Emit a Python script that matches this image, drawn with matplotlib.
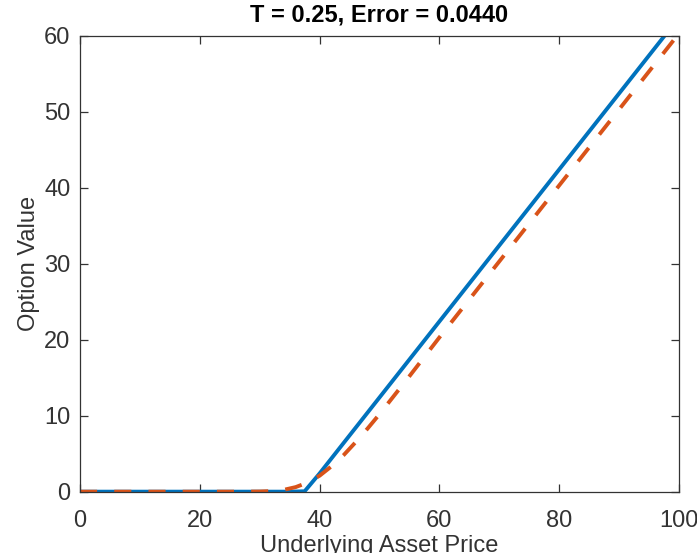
# Option value vs underlying price: network solution against reference curve
import matplotlib.pyplot as plt

plt.rcParams['font.family'] = ['Liberation Sans', 'DejaVu Sans']

# Solid blue curve
s_blue = [0, 5, 10, 15, 20, 25, 30, 35, 37.5, 40, 45, 50, 55, 60, 65, 70, 75, 80, 85, 90, 95, 100]
v_blue = [0, 0, 0, 0, 0, 0, 0, 0, 0.05, 2.4, 7.4, 12.4, 17.4, 22.4, 27.4, 32.4, 37.4, 42.4, 47.4, 52.4, 57.4, 62.4]

# Dashed orange curve
s_red = [0, 5, 10, 15, 20, 25, 30, 32, 34, 36, 38, 40, 42, 44, 46, 48, 50, 55, 60, 65, 70, 75, 80, 85, 90, 95, 100]
v_red = [0, 0, 0, 0, 0, 0, 0.02, 0.08, 0.24, 0.6, 1.2, 2.1, 3.35, 4.8, 6.5, 8.3, 10.2, 15.2, 20.3, 25.3,
         30.3, 35.3, 40.3, 45.3, 50.3, 55.3, 60.3]

title_text = 'T = 0.25, Error = 0.0440'
x_ticks = [0, 20, 40, 60, 80, 100]
y_ticks = [0, 10, 20, 30, 40, 50, 60]

fig = plt.figure(figsize=(6.97, 5.53), dpi=100)
ax = fig.add_axes([0.1148, 0.1109, 0.8594, 0.8246])

ax.plot(s_blue, v_blue, color='#0072BD', lw=2.8)
ax.plot(s_red, v_red, color='#D95319', lw=2.8, linestyle=(0, (4.4, 4.4)))

ax.set_xlim(0, 100)
ax.set_ylim(0, 60)
ax.set_xticks(x_ticks)
ax.set_yticks(y_ticks)

ax.tick_params(direction='in', length=6, width=0.9, colors='#333333', labelsize=17,
               top=True, right=True)
ax.tick_params(axis='x', pad=13)
ax.tick_params(axis='y', pad=7)
for sp in ax.spines.values():
    sp.set_color('#333333')
    sp.set_linewidth(0.9)

ax.set_xlabel('Underlying Asset Price', fontsize=17, color='#333333', labelpad=2)
ax.set_ylabel('Option Value', fontsize=17, color='#333333', labelpad=3)
ax.set_title(title_text, fontsize=17, fontweight='bold', color='black', pad=10)

fig.savefig('out.png', dpi=100)
